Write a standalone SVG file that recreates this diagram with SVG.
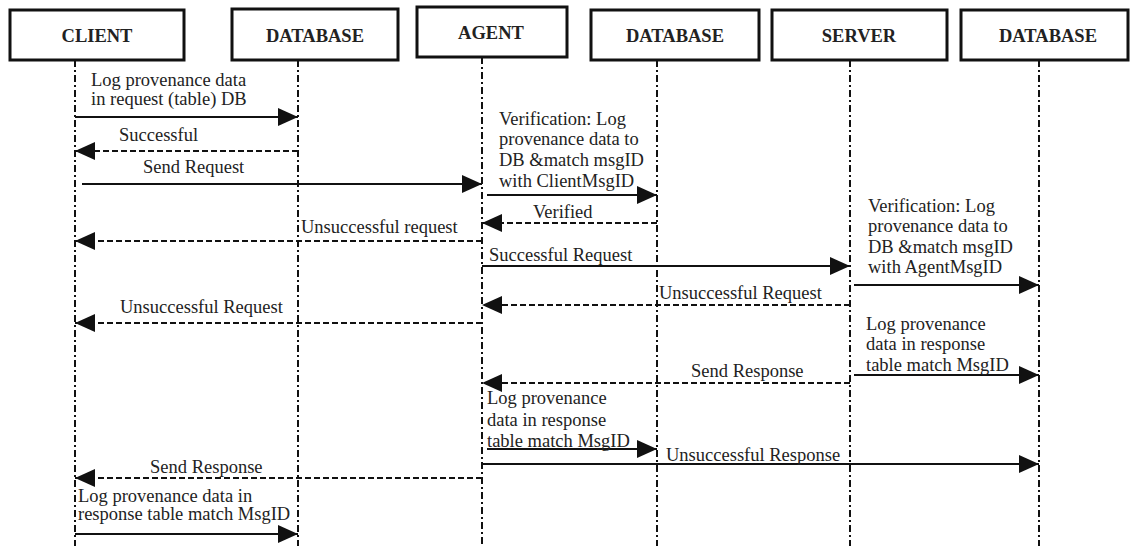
<svg xmlns="http://www.w3.org/2000/svg" width="1131" height="546" viewBox="0 0 1131 546">
<defs>
<style>
.box{fill:#fff;stroke:#111;stroke-width:3}
.hd{font-family:"Liberation Serif",serif;font-weight:bold;font-size:18.5px;fill:#222;text-anchor:middle}
.life{stroke:#111;stroke-width:2;stroke-dasharray:7 3 2 3;fill:none}
.msg{stroke:#111;stroke-width:2;fill:none;marker-end:url(#ah)}
.dash{stroke-dasharray:6 3}
.lb{font-family:"Liberation Serif",serif;font-size:18.5px;fill:#222}
</style>
<marker id="ah" viewBox="0 0 20 18" refX="20" refY="9" markerWidth="20" markerHeight="18" markerUnits="userSpaceOnUse" orient="auto">
<path d="M0,0 L20,9 L0,18 z" fill="#111"/>
</marker>
</defs>
<rect width="1131" height="546" fill="#fff"/>
<g id="lifelines">
<line class="life" x1="75" y1="60" x2="75" y2="546"/>
<line class="life" x1="298" y1="60" x2="298" y2="546"/>
<line class="life" x1="482" y1="57" x2="482" y2="546"/>
<line class="life" x1="657" y1="60" x2="657" y2="546"/>
<line class="life" x1="850" y1="60" x2="850" y2="546"/>
<line class="life" x1="1039" y1="60" x2="1039" y2="546"/>
</g>
<g id="client"><rect class="box" x="10" y="10" width="174" height="50"/><text class="hd" x="97" y="42">CLIENT</text></g>
<g id="database1"><rect class="box" x="232" y="9" width="166" height="51"/><text class="hd" x="315" y="42">DATABASE</text></g>
<g id="agent"><rect class="box" x="417" y="7" width="150" height="50"/><text class="hd" x="491" y="39">AGENT</text></g>
<g id="database2"><rect class="box" x="591" y="10" width="168" height="50"/><text class="hd" x="675" y="42">DATABASE</text></g>
<g id="server"><rect class="box" x="772" y="10" width="175" height="50"/><text class="hd" x="859" y="42">SERVER</text></g>
<g id="database3"><rect class="box" x="961" y="10" width="167" height="50"/><text class="hd" x="1048" y="42">DATABASE</text></g>
<g id="connectors">
<line class="msg" x1="75" y1="117" x2="298" y2="117"/>
<line class="msg dash" x1="298" y1="151" x2="75" y2="151"/>
<line class="msg" x1="82" y1="184" x2="482" y2="184"/>
<line class="msg dash" x1="482" y1="241" x2="75" y2="241"/>
<line class="msg" x1="487" y1="195" x2="657" y2="195"/>
<line class="msg dash" x1="657" y1="223" x2="482" y2="223"/>
<line class="msg" x1="482" y1="266" x2="850" y2="266"/>
<line class="msg" x1="854" y1="285" x2="1039" y2="285"/>
<line class="msg dash" x1="850" y1="305" x2="482" y2="305"/>
<line class="msg dash" x1="482" y1="323" x2="75" y2="323"/>
<line class="msg" x1="854" y1="375" x2="1039" y2="375"/>
<line class="msg dash" x1="850" y1="383" x2="482" y2="383"/>
<line class="msg" x1="487" y1="449" x2="657" y2="449"/>
<line class="msg" x1="482" y1="464" x2="1039" y2="464"/>
<line class="msg dash" x1="482" y1="478" x2="75" y2="478"/>
<line class="msg" x1="75" y1="534" x2="298" y2="534"/>
</g>
<g id="labels">
<text class="lb" x="91" y="86">Log provenance data</text>
<text class="lb" x="91" y="105">in request (table) DB</text>
<text class="lb" x="119" y="141">Successful</text>
<text class="lb" x="143" y="173">Send Request</text>
<text class="lb" x="301" y="233">Unsuccessful request</text>
<text class="lb" x="499" y="125">Verification: Log</text>
<text class="lb" x="499" y="145">provenance data to</text>
<text class="lb" x="499" y="166">DB &amp;match msgID</text>
<text class="lb" x="499" y="187">with ClientMsgID</text>
<text class="lb" x="533" y="218">Verified</text>
<text class="lb" x="489" y="261">Successful Request</text>
<text class="lb" x="868" y="212">Verification: Log</text>
<text class="lb" x="868" y="232">provenance data to</text>
<text class="lb" x="868" y="253">DB &amp;match msgID</text>
<text class="lb" x="868" y="273">with AgentMsgID</text>
<text class="lb" x="659" y="299">Unsuccessful Request</text>
<text class="lb" x="120" y="313">Unsuccessful Request</text>
<text class="lb" x="866" y="330">Log provenance</text>
<text class="lb" x="866" y="350">data in response</text>
<text class="lb" x="866" y="371">table match MsgID</text>
<text class="lb" x="691" y="377">Send Response</text>
<text class="lb" x="487" y="404">Log provenance</text>
<text class="lb" x="487" y="426">data in response</text>
<text class="lb" x="487" y="447">table match MsgID</text>
<text class="lb" x="666" y="461">Unsuccessful Response</text>
<text class="lb" x="150" y="473">Send Response</text>
<text class="lb" x="78" y="502">Log provenance data in</text>
<text class="lb" x="78" y="520">response table match MsgID</text>
</g>
</svg>
